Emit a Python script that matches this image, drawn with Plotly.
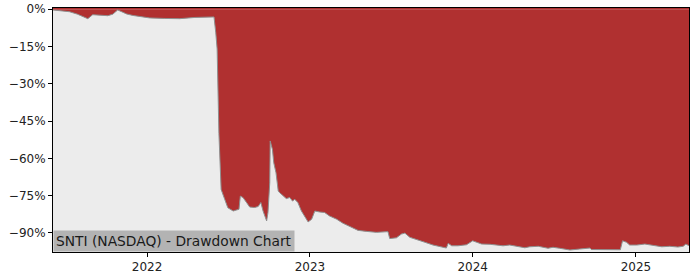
import plotly.graph_objects as go

dates = [
    "2021-06-04", "2021-06-19", "2021-07-11", "2021-07-29", "2021-08-09", "2021-08-21",
    "2021-09-01", "2021-09-17", "2021-10-05", "2021-10-16", "2021-10-27", "2021-11-05",
    "2021-11-16", "2021-11-30", "2021-12-16", "2022-01-07", "2022-02-09", "2022-03-15",
    "2022-04-18", "2022-05-10", "2022-05-28", "2022-05-31", "2022-06-04", "2022-06-07",
    "2022-06-11", "2022-06-14", "2022-06-16", "2022-06-24", "2022-07-01", "2022-07-13",
    "2022-07-22", "2022-07-26", "2022-07-29", "2022-08-04", "2022-08-12", "2022-08-19",
    "2022-08-30", "2022-09-07", "2022-09-13", "2022-09-18", "2022-09-26", "2022-09-29",
    "2022-10-03", "2022-10-04", "2022-10-09", "2022-10-12", "2022-10-17", "2022-10-22",
    "2022-10-25", "2022-11-02", "2022-11-09", "2022-11-17", "2022-11-23", "2022-11-28",
    "2022-12-05", "2022-12-13", "2022-12-21", "2022-12-28", "2023-01-05", "2023-01-12",
    "2023-01-23", "2023-02-03", "2023-02-14", "2023-03-02", "2023-03-16", "2023-03-31",
    "2023-04-19", "2023-05-08", "2023-05-30", "2023-06-18", "2023-06-25", "2023-06-29",
    "2023-07-14", "2023-07-25", "2023-08-02", "2023-08-13", "2023-08-28", "2023-09-16",
    "2023-10-04", "2023-10-23", "2023-11-03", "2023-11-07", "2023-11-15", "2023-11-29",
    "2023-12-18", "2024-01-01", "2024-01-10", "2024-01-21", "2024-02-09", "2024-03-09",
    "2024-03-24", "2024-04-08", "2024-04-27", "2024-05-08", "2024-05-27", "2024-06-18",
    "2024-06-29", "2024-07-14", "2024-08-06", "2024-08-28", "2024-09-20", "2024-09-23",
    "2024-10-19", "2024-11-27", "2024-12-02", "2024-12-11", "2024-12-18", "2025-01-03",
    "2025-01-21", "2025-02-09", "2025-02-28", "2025-03-18", "2025-04-05", "2025-04-17",
    "2025-04-23", "2025-04-30",
]

drawdown = [
    -0.3, -0.6, -1.0, -2.0, -3.0, -3.8,
    -2.2, -2.3, -2.6, -2.0, -0.3, -1.0,
    -1.9, -2.5, -3.0, -3.5, -3.7, -3.8,
    -3.3, -3.2, -3.0, -3.1, -9.5, -16.0,
    -50.0, -62.0, -72.5, -76.5, -79.9, -81.2,
    -80.9, -80.5, -75.2, -75.8, -77.8, -79.6,
    -79.8, -79.4, -77.8, -81.2, -85.2, -81.8,
    -69.8, -53.0, -56.4, -61.8, -65.8, -73.1,
    -73.8, -75.1, -76.2, -75.8, -77.2, -76.5,
    -77.8, -81.2, -83.8, -85.6, -84.5, -81.2,
    -81.6, -81.8, -83.2, -84.5, -86.1, -87.5,
    -89.0, -89.4, -89.8, -89.6, -89.5, -92.3,
    -92.0, -90.5, -90.1, -91.8, -92.8, -93.8,
    -94.9, -95.6, -96.1, -94.2, -95.2, -95.2,
    -94.8, -93.2, -93.8, -94.5, -94.6, -95.2,
    -94.9, -95.4, -96.0, -95.6, -95.4, -96.2,
    -95.8, -96.2, -96.9, -96.5, -96.1, -96.7,
    -96.8, -96.8, -93.2, -93.8, -94.9, -94.9,
    -94.5, -94.9, -95.6, -95.4, -95.7, -95.4,
    -94.5, -95.2,
]

y_tickvals = [0, -15, -30, -45, -60, -75, -90]
y_ticktext = ["0%", "\u221215%", "\u221230%", "\u221245%", "\u221260%", "\u221275%", "\u221290%"]
x_tickvals = ["2022-01-01", "2023-01-01", "2024-01-01", "2025-01-01"]
x_ticktext = ["2022", "2023", "2024", "2025"]
title_text = "SNTI (NASDAQ) - Drawdown Chart"

RED = "#b03030"
BG = "#ececec"
FONT = "DejaVu Sans"

fig = go.Figure()
fig.add_trace(go.Scatter(
    x=dates, y=drawdown, mode="lines", fill="tozeroy",
    fillcolor=RED, line=dict(color="#8f8f8f", width=1),
    hoverinfo="skip", showlegend=False,
))

fig.update_layout(
    width=700, height=280,
    margin=dict(l=53, r=11, t=8, b=28),
    paper_bgcolor="white", plot_bgcolor=BG,
    font=dict(family=FONT, size=12, color="#222222"),
    showlegend=False,
    shapes=[dict(type="rect", xref="paper", yref="y", x0=0, x1=1, y0=0, y1=0.6,
                 fillcolor=RED, line=dict(width=0), layer="below")],
    annotations=[dict(
        text=title_text, xref="paper", yref="paper", x=0, y=0,
        xanchor="left", yanchor="bottom", showarrow=False,
        bgcolor="#b3b3b3", borderpad=2,
        font=dict(family=FONT, size=13.8, color="#1a1a1a"),
    )],
)

fig.update_xaxes(
    range=["2021-06-04", "2025-04-30"],
    tickvals=x_tickvals, ticktext=x_ticktext,
    showgrid=False, zeroline=False, automargin=False,
    showline=True, linecolor="black", linewidth=1, mirror=True,
    ticks="outside", ticklen=4, tickcolor="black",
    tickfont=dict(family=FONT, size=12, color="#222222"),
)
fig.update_yaxes(
    range=[-97.7, 0.5],
    tickvals=y_tickvals, ticktext=y_ticktext,
    showgrid=False, zeroline=False, automargin=False,
    showline=True, linecolor="black", linewidth=1, mirror=True,
    ticks="outside", ticklen=4, tickcolor="black",
    tickfont=dict(family=FONT, size=12, color="#222222"),
)

fig.write_html("out.html")
